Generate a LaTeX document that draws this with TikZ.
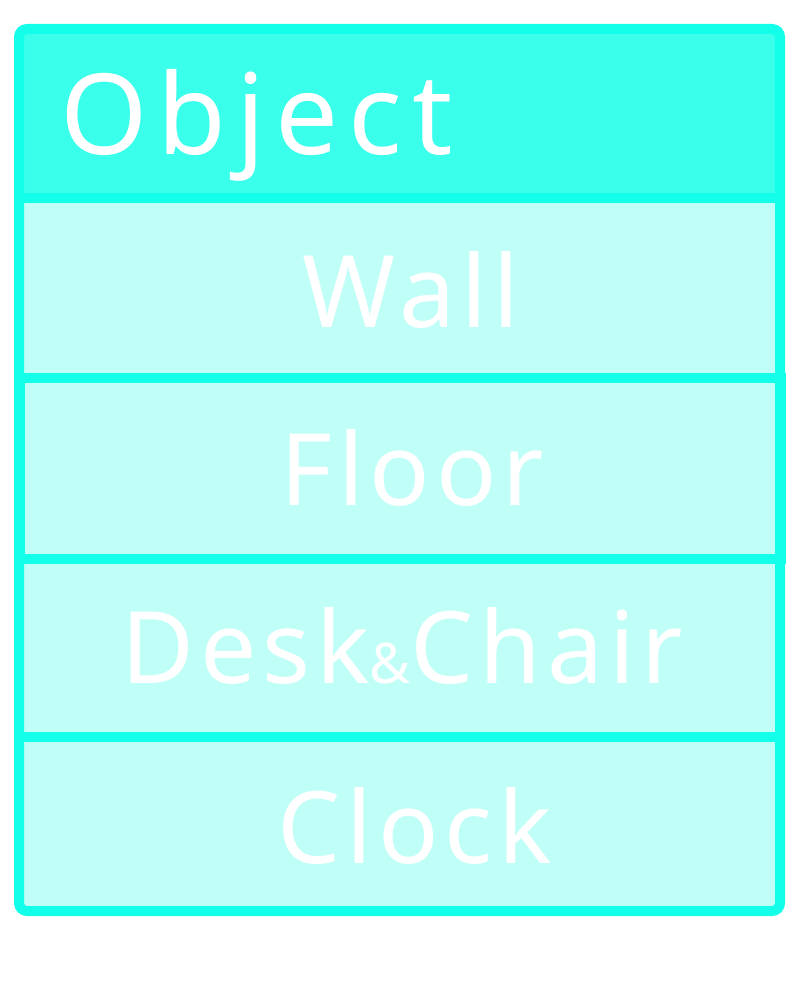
\documentclass[tikz,border=0pt]{standalone}
\usepackage{fontspec}
\newfontfamily\lblfont[LetterSpace=6]{Noto Sans}
\newfontfamily\headfont[LetterSpace=9]{Noto Sans}
\definecolor{edgecyan}{HTML}{14FFE9}
\definecolor{headfill}{HTML}{3AFFEB}
\definecolor{rowfill}{HTML}{C0FFF7}
\tikzset{
  box/.style={draw=edgecyan, line width=10pt, inner sep=0pt, outer sep=0pt},
  headbox/.style={box, fill=headfill, rounded corners=8pt},
  rowbox/.style={box, fill=rowfill},
  lbl/.style={text=white, inner sep=0pt, anchor=base west, font=\lblfont\fontsize{100}{100}\selectfont},
  headlbl/.style={lbl, font=\headfont\fontsize{112}{112}\selectfont}
}
\begin{document}
\begin{tikzpicture}[x=1pt,y=-1pt]
\useasboundingbox (0,0) rectangle (800,1000);
% outer frame (rounded) with header
\path[rowbox, draw=none, rounded corners=8pt] (19,29) rectangle (780,911);
\path[fill=headfill, rounded corners=8pt] (19,29) rectangle (780,198);
\fill[headfill] (19,100) rectangle (780,198);
% rows
\node[rowbox, minimum width=761pt, minimum height=180pt, anchor=north west] (wall) at (19,198) {};
\node[rowbox, minimum width=761pt, minimum height=180.5pt, anchor=north west] (floor) at (20,378) {};
\node[rowbox, minimum width=761pt, minimum height=178.5pt, anchor=north west] (desk) at (19,558.5) {};
\node[rowbox, draw=none, minimum width=761pt, minimum height=174pt, anchor=north west] (clock) at (19,737) {};
\draw[edgecyan, line width=10pt] (desk.south west) -- (desk.south east);
% outer rounded frame
\node[headbox, fill=none, minimum width=761pt, minimum height=882pt, anchor=north west] (frame) at (19,29) {};
\draw[edgecyan, line width=10pt] (wall.north west) -- (wall.north east);
% labels
\node[headlbl] (tobj) at (60,155) {Object};
\node[lbl] (twall) at (302,327) {Wall};
\node[lbl] (tfloor) at (280,505) {Floor};
\node[lbl] (tdesk) at (121,683) {Desk{\fontsize{56}{56}\selectfont\&}Chair};
\node[lbl] (tclock) at (277,863) {Clock};
\end{tikzpicture}
\end{document}
